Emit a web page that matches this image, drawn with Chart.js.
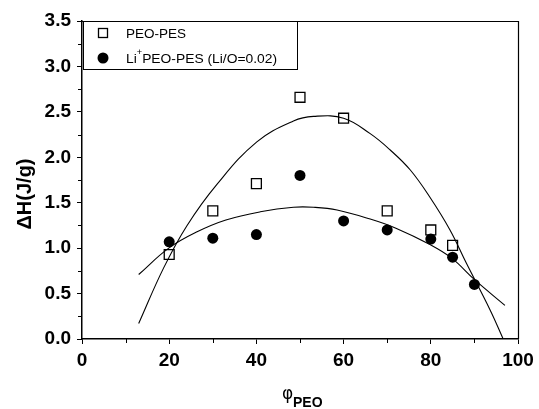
<!DOCTYPE html>
<html>
<head>
<meta charset="utf-8">
<script src="https://cdn.jsdelivr.net/npm/chart.js@4/dist/chart.umd.min.js"></script>
<style>
html,body{margin:0;padding:0;background:#fff;}
canvas{display:block;}
</style>
</head>
<body>
<canvas id="c" width="539" height="409"></canvas>
<script>
// ---- data ----
const phiPeo      = [20, 30, 40, 50, 60, 70, 80, 85];
const peoPes      = [0.93, 1.41, 1.71, 2.66, 2.43, 1.41, 1.20, 1.03];
const phiLi       = [20, 30, 40, 50, 60, 70, 80, 85, 90];
const liPeoPes    = [1.07, 1.11, 1.15, 1.80, 1.30, 1.20, 1.10, 0.90, 0.60];
// fitted curves as traced in the picture
const fitPeoX = [13, 18.7, 24.1, 30.9, 40.1, 48.5, 53.1, 60, 66.1, 70.7, 75.3, 79.8, 84.4, 88.2, 93.6, 96.6];
const fitPeoY = [0.17, 0.78, 1.25, 1.70, 2.17, 2.40, 2.45, 2.43, 2.26, 2.08, 1.86, 1.56, 1.20, 0.83, 0.32, 0.0];
const fitLiX  = [13, 19.9, 26.4, 33, 40.9, 48.5, 53.1, 58.5, 66.1, 72, 79.8, 84.8, 90.1, 97];
const fitLiY  = [0.71, 1.0, 1.18, 1.31, 1.40, 1.45, 1.45, 1.42, 1.32, 1.22, 1.04, 0.89, 0.65, 0.37];
const xTicksMajor = [0, 20, 40, 60, 80, 100];
const xTicksMinor = [10, 30, 50, 70, 90];
const yTicksMinor = [0.25, 0.75, 1.25, 1.75, 2.25, 2.75, 3.25];
const legendLabels = ['PEO-PES', 'Li', '+', 'PEO-PES (Li/O=0.02)'];
const xTitle = ['\u03c6', 'PEO'];
const yTitle = '\u0394H(J/g)';

const pts = (xs, ys) => xs.map((x, i) => ({x: x, y: ys[i]}));

Chart.defaults.color = '#000';
Chart.defaults.font.family = '"Liberation Sans", Arial, sans-serif';

const LF = '13.5px "Liberation Sans", Arial, sans-serif';
const SF = '9px "Liberation Sans", Arial, sans-serif';

const decor = {
  id: 'decor',
  afterDraw(chart) {
    const ctx = chart.ctx;
    const a = chart.chartArea;
    const xs = chart.scales.x, ys = chart.scales.y;
    ctx.save();
    ctx.strokeStyle = '#000';
    ctx.lineWidth = 1.2;
    // top and right frame
    ctx.beginPath();
    ctx.moveTo(a.left, a.top + 0.5);
    ctx.lineTo(a.right + 0.5, a.top + 0.5);
    ctx.lineTo(a.right + 0.5, a.bottom);
    ctx.stroke();
    // minor ticks
    ctx.lineWidth = 1;
    ctx.beginPath();
    yTicksMinor.forEach(v => {
      const p = Math.round(ys.getPixelForValue(v)) + 0.5;
      ctx.moveTo(a.left - 4, p); ctx.lineTo(a.left, p);
    });
    xTicksMinor.forEach(v => {
      const p = Math.round(xs.getPixelForValue(v)) + 0.5;
      ctx.moveTo(p, a.bottom); ctx.lineTo(p, a.bottom + 4);
    });
    ctx.stroke();
    // legend box
    ctx.lineWidth = 1;
    ctx.strokeRect(83.5, 21.5, 214, 48);
    // legend symbols
    ctx.lineWidth = 1.3;
    ctx.strokeRect(98.5, 28.5, 9, 9);
    ctx.fillStyle = '#000';
    ctx.beginPath();
    ctx.arc(103, 58, 5.5, 0, Math.PI * 2);
    ctx.fill();
    // legend text
    ctx.textBaseline = 'middle';
    ctx.textAlign = 'left';
    ctx.font = LF;
    const w1 = ctx.measureText(legendLabels[0]).width;
    ctx.save();
    ctx.translate(126, 34);
    ctx.scale(60 / w1, 1);
    ctx.fillText(legendLabels[0], 0, 0);
    ctx.restore();
    // line 2
    ctx.font = LF;
    const wa = ctx.measureText(legendLabels[1]).width;
    const wc = ctx.measureText(legendLabels[3]).width;
    ctx.font = SF;
    const wb = ctx.measureText(legendLabels[2]).width;
    const tot = wa + wb + wc;
    ctx.save();
    ctx.translate(126, 59);
    ctx.scale(151 / tot, 1);
    ctx.font = LF;
    ctx.fillText(legendLabels[1], 0, 0);
    ctx.font = SF;
    ctx.fillText(legendLabels[2], wa, -6);
    ctx.font = LF;
    ctx.fillText(legendLabels[3], wa + wb, 0);
    ctx.restore();
    // y title
    ctx.save();
    ctx.translate(25, 194);
    ctx.rotate(-Math.PI / 2);
    ctx.textAlign = 'center';
    ctx.textBaseline = 'middle';
    ctx.font = 'bold 20px "Liberation Sans", Arial, sans-serif';
    ctx.fillText(yTitle, 0, 0);
    ctx.restore();
    // x title
    ctx.textBaseline = 'alphabetic';
    ctx.textAlign = 'left';
    ctx.font = '17px "DejaVu Sans", sans-serif';
    ctx.fillText(xTitle[0], 282, 399);
    ctx.font = 'bold 14px "Liberation Sans", Arial, sans-serif';
    ctx.fillText(xTitle[1], 293, 407);
    ctx.restore();
  }
};

new Chart(document.getElementById('c'), {
  type: 'scatter',
  data: {
    datasets: [
      { label: 'fit PEO-PES', data: pts(fitPeoX, fitPeoY), showLine: true, pointRadius: 0,
        borderColor: '#000', borderWidth: 1.1, tension: 0.4, order: 3 },
      { label: 'fit Li', data: pts(fitLiX, fitLiY), showLine: true, pointRadius: 0,
        borderColor: '#000', borderWidth: 1.1, tension: 0.4, order: 3 },
      { label: 'PEO-PES', data: pts(phiPeo, peoPes), pointStyle: 'rect', pointRadius: 7,
        backgroundColor: 'rgba(0,0,0,0)', borderColor: '#000', borderWidth: 1.3, order: 2 },
      { label: 'Li+PEO-PES (Li/O=0.02)', data: pts(phiLi, liPeoPes), pointStyle: 'circle', pointRadius: 5.5,
        backgroundColor: '#000', borderColor: '#000', borderWidth: 0, order: 1 }
    ]
  },
  options: {
    responsive: false,
    animation: false,
    devicePixelRatio: 1,
    layout: { padding: { top: 21, right: 21, left: 0, bottom: 0 } },
    plugins: { legend: { display: false }, tooltip: { enabled: false } },
    scales: {
      x: {
        type: 'linear', min: 0, max: 100,
        afterFit: s => { s.height = 70; },
        afterBuildTicks: s => { s.ticks = xTicksMajor.map(v => ({value: v})); },
        ticks: { font: { size: 19, weight: 'bold' }, padding: 5, maxRotation: 0 },
        grid: { drawOnChartArea: false, drawTicks: true, tickLength: 5, color: '#000', tickWidth: 1 },
        border: { display: true, color: '#000', width: 1.5 }
      },
      y: {
        type: 'linear', min: 0, max: 3.5,
        afterFit: s => { s.width = 82; },
        ticks: { stepSize: 0.5, font: { size: 19, weight: 'bold' }, padding: 6,
                 callback: v => Number(v).toFixed(1) },
        grid: { drawOnChartArea: false, drawTicks: true, tickLength: 5, color: '#000', tickWidth: 1 },
        border: { display: true, color: '#000', width: 1.5 }
      }
    }
  },
  plugins: [decor]
});
</script>
</body>
</html>
